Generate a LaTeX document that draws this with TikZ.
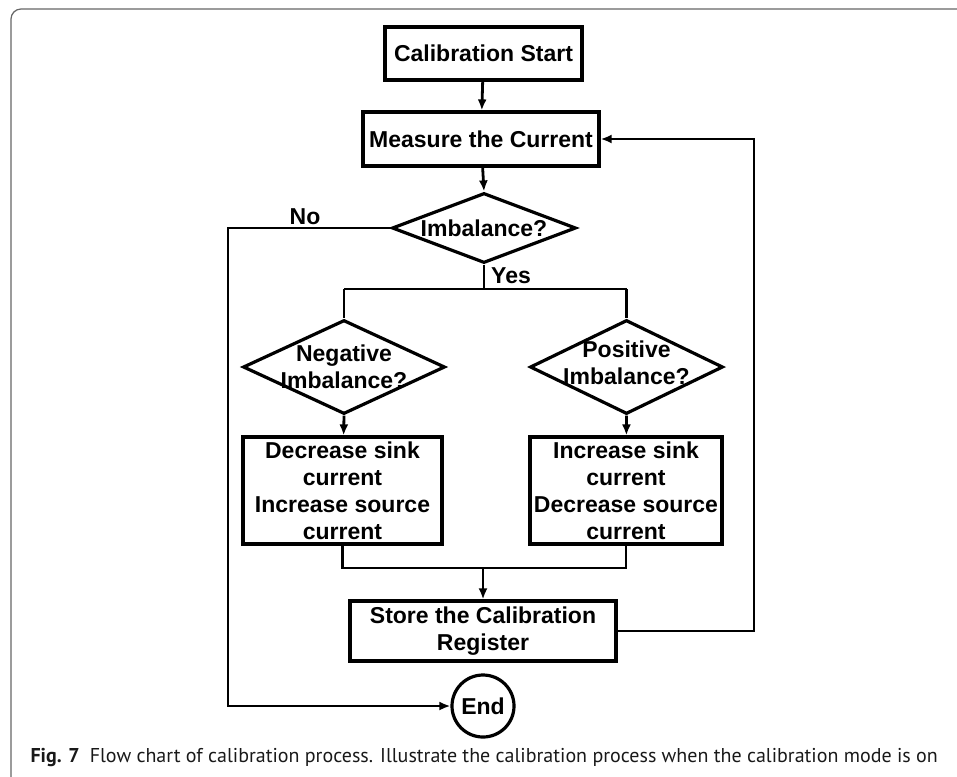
\documentclass[tikz,border=0pt]{standalone}
\usepackage{fontspec}
\setmainfont{Liberation Sans}
\newfontfamily\capfont{PT Sans}
\usetikzlibrary{arrows.meta,shapes.geometric}

\begin{document}
\begin{tikzpicture}[x=1pt,y=-1pt,
            box/.style={draw,line width=3.2pt,inner sep=0pt,align=center,
              font=\bfseries\fontsize{23}{27}\selectfont},
            dec/.style={draw,diamond,line width=3.2pt,inner sep=0pt},
            txt/.style={font=\bfseries\fontsize{23}{27}\selectfont,align=center},
            link/.style={line width=2.8pt},
            flow/.style={line width=2.8pt,-{Latex[length=11pt,width=9pt]}}]
            \useasboundingbox (0,0) rectangle (957,776);
            \clip (0,0) rectangle (957,776);
            \draw[black!60,line width=1.2pt,rounded corners=10pt] (11,820) -- (11,9) -- (990,9);

            \node[box,minimum width=197pt,minimum height=53pt] (start) at (483.5,53.5) {Calibration Start};
            \node[box,minimum width=236pt,minimum height=54pt] (measure) at (481,139) {Measure the Current};
            \node[dec,minimum width=184pt,minimum height=70pt,
              label={[txt]center:Imbalance?}] (imb) at (484,228) {};
            \node[dec,minimum width=202pt,minimum height=94pt,
              label={[txt]center:Negative\\Imbalance?}] (neg) at (344,367) {};
            \node[dec,minimum width=193pt,minimum height=94pt,
              label={[txt,yshift=4pt]center:Positive\\Imbalance?}] (pos) at (626.5,367) {};
            \node[box,minimum width=199pt,minimum height=107pt] (negbox) at (342.5,490.5)
              {Decrease sink\\current\\Increase source\\current};
            \node[box,minimum width=192pt,minimum height=107pt] (posbox) at (626,490.5)
              {Increase sink\\current\\Decrease source\\current};
            \node[box,minimum width=266pt,minimum height=60pt] (store) at (483,631)
              {Store the Calibration\\Register};
            \node[box,circle,minimum size=62pt] (end) at (483,706) {End};

            \node[txt] (no) at (305,217) {No};
            \node[txt] (yes) at (511,276) {Yes};

            \coordinate (split) at (484,289);
            \coordinate (sl) at (344,289);
            \coordinate (sr) at (626.5,289);
            \coordinate (ntop) at (228,228);
            \coordinate (nbot) at (228,706);
            \coordinate (rbot) at (754,631);
            \coordinate (rtop) at (754,139);
            \coordinate (mid) at (483,568);

            \draw[flow] (start) -- (measure);
            \draw[flow] (measure) -- (imb.north);
            \draw[link] (imb.south) -- (split);
            \draw[link] (sl) -- (sr);
            \draw[link] (sl) -- (neg.north);
            \draw[link] (sr) -- (pos.north);
            \draw[flow] (neg.south) -- (negbox);
            \draw[flow] (pos.south) -- (posbox);
            \draw[link] (negbox.south) |- (mid) -| (posbox.south);
            \draw[flow] (mid) -- (store);
            \draw[flow] (store.east) -- (rbot) -- (rtop) -- (measure.east);
            \draw[flow] (imb.west) -- (ntop) -- (nbot) -- (end.west);

            \node[anchor=base west,font=\capfont\fontsize{20}{24}\selectfont,text=black!90] (cap) at (27,762)
              {\textbf{Fig. 7}\hspace{0.5em}Flow chart of calibration process. Illustrate the calibration process when the calibration mode is on};
          \end{tikzpicture}
\end{document}
